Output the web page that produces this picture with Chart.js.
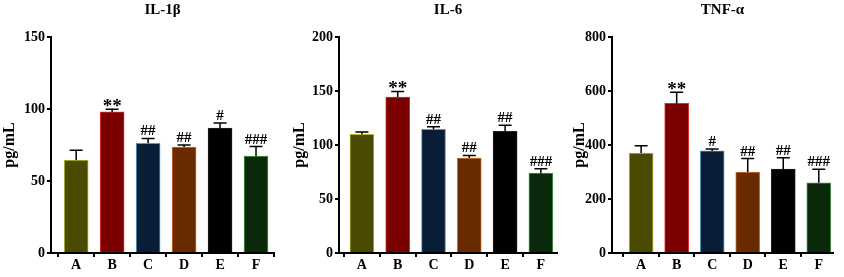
<!DOCTYPE html>
<html>
<head>
<meta charset="utf-8">
<script src="https://cdn.jsdelivr.net/npm/chart.js@4"></script>
<style>
  html, body { margin: 0; padding: 0; background: #fff; }
  #wrap { position: relative; width: 844px; height: 277px; }
  .panel { position: absolute; top: 0; height: 277px; }
</style>
</head>
<body>
<div id="wrap">
  <div class="panel" style="left:0;width:290px"><canvas id="chart1"></canvas></div>
  <div class="panel" style="left:290px;width:280px"><canvas id="chart2"></canvas></div>
  <div class="panel" style="left:570px;width:274px"><canvas id="chart3"></canvas></div>
</div>
<script>
const groups = ['A', 'B', 'C', 'D', 'E', 'F'];

// IL-1β
const il1bMean = [64.5, 98.0, 76.2, 73.6, 86.8, 67.3];
const il1bErr = [6.8, 1.9, 3.4, 1.4, 3.5, 6.6];
const il1bMarks = ['', '**', '##', '##', '#', '###'];
const il1bTicks = [0, 50, 100, 150];

// IL-6
const il6Mean = [109.9, 144.4, 114.5, 87.9, 112.7, 73.9];
const il6Err = [2.1, 5.2, 2.4, 2.4, 5.5, 4.0];
const il6Marks = ['', '**', '##', '##', '##', '###'];
const il6Ticks = [0, 50, 100, 150, 200];

// TNF-α
const tnfMean = [370, 554, 378, 300, 311, 260];
const tnfErr = [27, 41, 7, 50, 42, 50];
const tnfMarks = ['', '**', '#', '##', '##', '###'];
const tnfTicks = [0, 200, 400, 600, 800];

const fillColors = ['#4a4a00', '#7a0000', '#0a1d36', '#6a2a00', '#000000', '#0a280a'];
const edgeColors = ['#b8b830', '#d83030', '#5a9cc0', '#d07020', '#202020', '#4a9a4a'];

const serif = 'Liberation Serif, Times New Roman, serif';

// draws upper error whiskers and the significance marks above them
const errorBars = {
  id: 'errorBars',
  afterDatasetsDraw(chart, args, opts) {
    const c = chart.ctx;
    const meta = chart.getDatasetMeta(0);
    const yScale = chart.scales.y;
    c.save();
    c.strokeStyle = '#000';
    c.lineWidth = 1.5;
    meta.data.forEach((bar, i) => {
      const top = yScale.getPixelForValue(opts.mean[i] + opts.err[i]);
      c.beginPath();
      c.moveTo(bar.x, bar.y);
      c.lineTo(bar.x, top);
      c.moveTo(bar.x - 6.5, top);
      c.lineTo(bar.x + 6.5, top);
      c.stroke();
      const mark = opts.marks[i];
      if (mark) {
        c.fillStyle = '#000';
        c.textAlign = 'center';
        c.textBaseline = 'alphabetic';
        if (mark[0] === '*') {
          // asterisks sit high in the font, so bigger and lower
          c.font = 'bold 19px ' + serif;
          c.fillText(mark, bar.x, top + 3);
        } else {
          c.font = 'bold 15px ' + serif;
          c.fillText(mark, bar.x, top - 3);
        }
      }
    });
    c.restore();
  }
};

function makeChart(id, title, mean, err, marks, ticks, yAxisWidth, padRight, xMin, xMax) {
  const ctx = document.getElementById(id).getContext('2d');
  return new Chart(ctx, {
    type: 'bar',
    data: {
      datasets: [{
        data: mean.map((v, i) => ({ x: i, y: v })),
        backgroundColor: fillColors,
        borderColor: edgeColors,
        borderWidth: 1,
        barThickness: 24, // width of the bars
      }]
    },
    options: {
      responsive: true,
      maintainAspectRatio: false,
      animation: false,
      layout: {
        padding: { left: 0, right: padRight, top: 0, bottom: 0 }
      },
      plugins: {
        legend: { display: false },
        tooltip: { enabled: false },
        title: {
          display: true,
          text: title,
          fullSize: false,
          color: '#000',
          font: { family: serif, size: 15, weight: 'bold' },
          padding: { top: 1, bottom: 18 }
        },
        errorBars: { mean: mean, err: err, marks: marks }
      },
      scales: {
        x: {
          type: 'linear',
          offset: false,
          min: xMin,
          max: xMax,
          afterBuildTicks: (scale) => {
            scale.ticks = groups.map((g, i) => ({ value: i }));
          },
          afterFit: (scale) => { scale.height = 24; },
          ticks: {
            callback: (v) => groups[v],
            color: '#000',
            padding: 0,
            maxRotation: 0,
            autoSkip: false,
            font: { family: serif, size: 14, weight: 'bold' }
          },
          grid: {
            drawOnChartArea: false,
            color: '#000',
            lineWidth: 2,
            tickLength: 4
          },
          border: { color: '#000', width: 2 }
        },
        y: {
          min: ticks[0],
          max: ticks[ticks.length - 1],
          afterBuildTicks: (scale) => {
            scale.ticks = ticks.map((t) => ({ value: t }));
          },
          afterFit: (scale) => { scale.width = yAxisWidth; },
          ticks: {
            color: '#000',
            padding: 2,
            font: { family: serif, size: 14, weight: 'bold' }
          },
          grid: {
            drawOnChartArea: false,
            color: '#000',
            lineWidth: 2,
            tickLength: 4
          },
          border: { color: '#000', width: 2 },
          title: {
            display: true,
            text: 'pg/mL',
            color: '#000',
            padding: { top: 0, bottom: 0 },
            font: { family: serif, size: 16, weight: 'bold' }
          }
        }
      }
    },
    plugins: [errorBars]
  });
}

makeChart('chart1', 'IL-1β', il1bMean, il1bErr, il1bMarks, il1bTicks, 51, 16, -0.7, 5.5);
makeChart('chart2', 'IL-6', il6Mean, il6Err, il6Marks, il6Ticks, 49, 13, -0.64, 5.45);
makeChart('chart3', 'TNF-α', tnfMean, tnfErr, tnfMarks, tnfTicks, 42, 11, -0.82, 5.4);
</script>
</body>
</html>
